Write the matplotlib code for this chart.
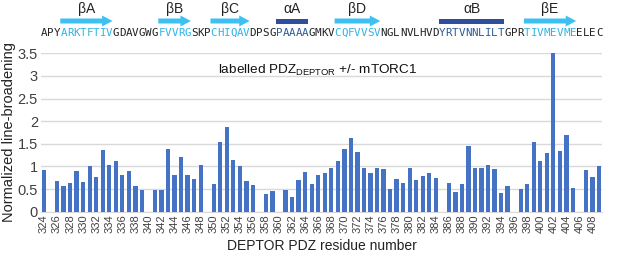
import numpy as np
import matplotlib
matplotlib.use("Agg")
import matplotlib.pyplot as plt
from matplotlib.patches import FancyArrow, Rectangle

plt.rcParams["font.family"] = ["Liberation Sans", "DejaVu Sans"]
plt.rcParams["mathtext.fontset"] = "custom"
plt.rcParams["mathtext.rm"] = "Liberation Sans"

# ---- data ----
residues = list(range(324, 410))
broadening = [
    0.93, np.nan, 0.68, 0.56, 0.64, 0.90, 0.66, 1.02, 0.76, 1.36,   # 324-333
    1.04, 1.13, 0.80, 0.90, 0.56, 0.48, np.nan, 0.47, 0.48, 1.38,   # 334-343
    0.81, 1.20, 0.80, 0.72, 1.04, np.nan, 0.61, 1.55, 1.87, 1.15,   # 344-353
    1.01, 0.67, 0.59, np.nan, 0.40, 0.46, np.nan, 0.48, 0.33, 0.70,  # 354-363
    0.88, 0.61, 0.82, 0.85, 0.96, 1.11, 1.39, 1.63, 1.33, 0.96,     # 364-373
    0.85, 0.97, 0.94, 0.50, 0.73, 0.64, 0.96, 0.70, 0.79, 0.86,     # 374-383
    0.74, np.nan, 0.64, 0.44, 0.61, 1.46, 0.96, 0.96, 1.04, 0.95,   # 384-393
    0.42, 0.56, np.nan, 0.50, 0.61, 1.55, 1.13, 1.29, 3.50, 1.35,   # 394-403
    1.70, 0.53, np.nan, 0.93, 0.77, 1.00,                           # 404-409
]
sequence = "APYARKTFTIVGDAVGWGFVVRGSKPCHIQAVDPSGPAAAAGMKVCQFVVSVNGLNVLHVDYRTVNNLILTGPRTIVMEVMEELEC"

# secondary structure: label, first residue, last residue, kind
ss_labels = ["βA", "βB", "βC", "αA", "βD", "αB", "βE"]
ss_start = [327, 342, 350, 360, 369, 385, 398]
ss_end = [334, 346, 355, 364, 375, 394, 405]
ss_kind = ["strand", "strand", "strand", "helix", "strand", "helix", "strand"]

yticks = [0, 0.5, 1, 1.5, 2, 2.5, 3, 3.5]
ytick_labels = ["0", "0.5", "1", "1.5", "2", "2.5", "3", "3.5"]

BAR_COLOR = "#4472c4"
STRAND_COLOR = "#3ec1f0"
STRAND_TEXT = "#2db4e6"
HELIX_COLOR = "#2f4f9c"
HELIX_TEXT = "#2c5a98"

W, H = 617, 266
fig = plt.figure(figsize=(W / 100, H / 100), dpi=100)

x0, x1 = 323.5, 409.5

# ---- bar chart ----
ax = fig.add_axes([40.7 / W, 1 - 211.7 / H, (602.3 - 40.7) / W, (211.7 - 53.3) / H])
ax.bar(residues, broadening, width=0.66, color=BAR_COLOR, zorder=3)
ax.set_xlim(x0, x1)
ax.set_ylim(0, 3.5)
ax.set_yticks(yticks)
ax.set_yticklabels(ytick_labels, fontsize=10.5, color="#404040")
ax.set_xticks(residues[::2])
ax.set_xticklabels([str(r) for r in residues[::2]], rotation=90, fontsize=8, color="#404040")
ax.tick_params(length=0, pad=2)
ax.yaxis.grid(True, color="#d9d9d9", linewidth=1, zorder=0)
for s in ["top", "right", "left"]:
    ax.spines[s].set_visible(False)
ax.spines["bottom"].set_color("#d9d9d9")
ax.set_ylabel("Normalized line-broadening", fontsize=10.5, color="#222222", labelpad=1)
ax.set_xlabel("DEPTOR PDZ residue number", fontsize=10, color="#222222", labelpad=4)
ax.text(218 / W, 1 - 70 / H, r"labelled PDZ$_{\mathrm{DEPTOR}}$ +/- mTORC1",
        transform=fig.transFigure, fontsize=9.7, color="#111111", va="center", ha="left")

# ---- sequence / secondary structure strip ----
top = fig.add_axes([40.7 / W, 1 - 42 / H, (602.3 - 40.7) / W, 42 / H])
top.set_xlim(x0, x1)
top.set_ylim(42, 0)
top.axis("off")

colors = ["#222222"] * len(sequence)
for lab, a, b, kind in zip(ss_labels, ss_start, ss_end, ss_kind):
    for r in range(a, b + 1):
        colors[r - 324] = STRAND_TEXT if kind == "strand" else HELIX_TEXT
    left, right = a - 0.5, b + 0.5
    if kind == "strand":
        top.add_patch(FancyArrow(left, 21, right - left, 0, width=5, head_width=11,
                                 head_length=1.6, length_includes_head=True,
                                 color=STRAND_COLOR, linewidth=0))
    else:
        top.add_patch(Rectangle((left, 18.5), right - left, 5, color=HELIX_COLOR, linewidth=0))
    top.text((left + right) / 2, 9, lab, ha="center", va="center", fontsize=10, color="#222222")

for r, ch, c in zip(residues, sequence, colors):
    top.text(r, 32.5, ch, ha="center", va="center", fontsize=7.8,
             family="DejaVu Sans Mono", color=c)

fig.savefig("out.png", dpi=100)
